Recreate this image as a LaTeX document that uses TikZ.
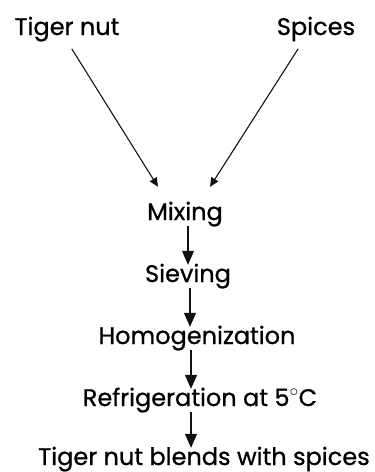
\documentclass[tikz,border=0pt]{standalone}
\usepackage{fontspec}
\setmainfont{Poppins}[FakeBold=0.8]
\usepackage{tikz}
\usetikzlibrary{positioning,arrows.meta,calc}
\definecolor{flowtext}{HTML}{000000}
\definecolor{flowline}{HTML}{111111}

\tikzset{
  stage/.style={inner sep=0pt,text height=17pt,text depth=6pt,anchor=base,text=flowtext,font=\fontsize{24}{28}\selectfont},
  feed/.style={draw=flowline,line width=1.1pt,-{Triangle[width=8pt,length=9pt]}},
  flow/.style={draw=flowline,line width=1.2pt,-{Triangle[width=12pt,length=14pt]}}
}

\begin{document}
\begin{tikzpicture}[x=1pt,y=-1pt]
\useasboundingbox (0,0) rectangle (375,472);
% raw materials
\node[stage] (nut) at (67,35) {Tiger nut};
\node[stage] (spc) at (316,35) {Spices};
% process chain
\node[stage] (mix) at (185,220) {Mixing};
\node[stage] (sie) at (188,282) {Sieving};
\node[stage] (hom) at (197,344) {Homogenization};
\node[stage] (ref) at (200,406) {Refrigeration at 5$^{\circ}$C};
\node[stage] (end) at (204,465) {Tiger nut blends with spices};

\draw[feed,shorten <=9pt] (nut.south) -- ([xshift=-27pt,yshift=16pt]mix.north);
\draw[feed,shorten <=9pt] ([xshift=-13pt]spc.south) -- ([xshift=25pt,yshift=16pt]mix.north);
\draw[flow] ([xshift=3pt]mix.south) -- (sie.north);
\draw[flow] ([xshift=2pt]sie.south) -- ([xshift=-7pt]hom.north);
\draw[flow] ([xshift=-6pt]hom.south) -- ([xshift=-9pt]ref.north);
\draw[flow] ([xshift=-9pt]ref.south) -- ([xshift=-13pt]end.north);
\end{tikzpicture}
\end{document}
